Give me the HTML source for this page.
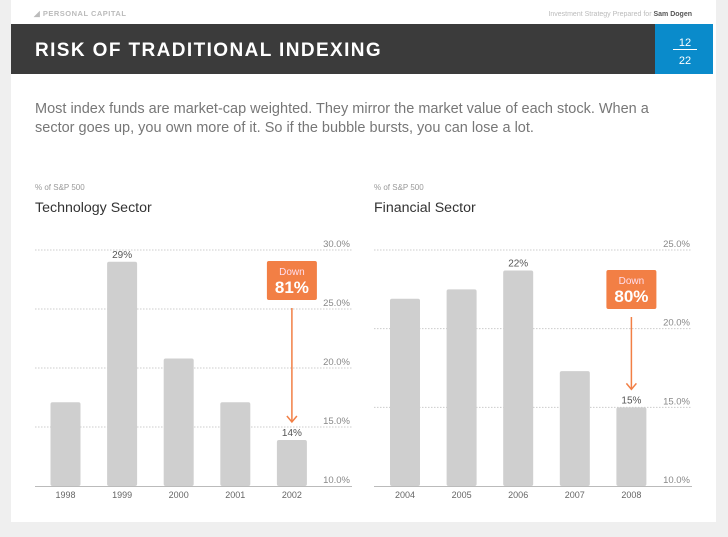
<!DOCTYPE html>
<html><head><meta charset="utf-8">
<style>
html,body{margin:0;padding:0;background:#efefef;width:728px;height:537px;overflow:hidden;font-family:"Liberation Sans",sans-serif}
.card{position:absolute;left:11px;top:0;width:705px;height:522px;background:#fff}
svg{position:absolute;left:0;top:0}
</style></head><body>
<div class="card"></div>
<svg width="728" height="537" id="chart">
<text x="34" y="16" font-size="7.5" fill="#bbb" font-weight="bold" letter-spacing="0.5">◢ PERSONAL CAPITAL</text>
<text x="692" y="16" font-size="7" fill="#bbb" text-anchor="end">Investment Strategy Prepared for <tspan fill="#555" font-weight="bold">Sam Dogen</tspan></text>
<rect x="11" y="24" width="644" height="50" fill="#3b3b3b"/>
<text x="35" y="56" font-size="19" fill="#fff" font-weight="bold" letter-spacing="1.4">RISK OF TRADITIONAL INDEXING</text>
<rect x="655" y="24" width="58" height="50" fill="#0a8bcb"/>
<text x="685" y="46" font-size="11" fill="#fff" text-anchor="middle">12</text>
<line x1="673" y1="49.5" x2="697" y2="49.5" stroke="#fff" stroke-width="1"/>
<text x="685" y="64" font-size="11" fill="#fff" text-anchor="middle">22</text>
<text x="35" y="113" font-size="14.5" fill="#777">Most index funds are market-cap weighted. They mirror the market value of each stock. When a</text>
<text x="35" y="132" font-size="14.5" fill="#777">sector goes up, you own more of it. So if the bubble bursts, you can lose a lot.</text>
<g id="g1"></g><g id="g2"></g>
</svg>
<script>
const techYears=["1998","1999","2000","2001","2002"];
const techValues=[17.1,29.0,20.8,17.1,13.9];
const techLabels=[null,"29%",null,null,"14%"];
const techTicks=[10,15,20,25,30];
const finYears=["2004","2005","2006","2007","2008"];
const finValues=[21.9,22.5,23.7,17.3,15.0];
const finLabels=[null,null,"22%",null,"15%"];
const finTicks=[10,15,20,25];
const NS="http://www.w3.org/2000/svg";
function mk(p,t,a){const e=document.createElementNS(NS,t);for(const k in a)e.setAttribute(k,a[k]);p.appendChild(e);return e;}
function draw(gid,cfg){
  const g=document.getElementById(gid);
  const base=486,top=250,min=cfg.ticks[0],max=cfg.ticks[cfg.ticks.length-1];
  const y=v=>base-(v-min)/(max-min)*(base-top);
  const x=i=>cfg.x0+i*56.6;
  let t=mk(g,'text',{x:cfg.ax0,y:190,'font-size':8,fill:'#999'});t.textContent='% of S&P 500';
  
  
  t=mk(g,'text',{x:cfg.ax0,y:212,'font-size':14.2,fill:'#333'});t.textContent=cfg.title;
  
  
  cfg.ticks.forEach((v,i)=>{
    if(i>0){const l=mk(g,'line',{x1:cfg.ax0,x2:cfg.ax1,y1:y(v),y2:y(v),stroke:'#ccc','stroke-dasharray':'1.5,1.5'});
    
    }
    const tx=mk(g,'text',{x:cfg.ax1-2,y:y(v)-3,'font-size':9.5,fill:'#888','text-anchor':'end'});tx.textContent=v.toFixed(1)+'%';
    
    
  });
  cfg.values.forEach((v,i)=>{
    const r=mk(g,'rect',{x:x(i),y:y(v),width:30,height:base-y(v),rx:2,fill:'#cfcfcf'});
    
    
    const c=mk(g,'text',{x:x(i)+15,y:base+12,'font-size':9,fill:'#666','text-anchor':'middle'});c.textContent=cfg.cats[i];
    
    
    if(cfg.labels[i]){const l=mk(g,'text',{x:x(i)+15,y:y(v)-4,'font-size':10,fill:'#555','text-anchor':'middle'});l.textContent=cfg.labels[i];
    
    }
  });
  const ax=mk(g,'line',{x1:cfg.ax0,x2:cfg.ax1,y1:base+0.5,y2:base+0.5,stroke:'#bbb'});
  
  
  const n=cfg.values.length-1, cx=x(n)+15, by=cfg.boxY;
  const b=mk(g,'rect',{x:cx-25,y:by,width:50,height:39,rx:2,fill:'#f27f45'});
  
  
  t=mk(g,'text',{x:cx,y:by+14,'font-size':10,fill:'#fde','text-anchor':'middle'});t.textContent='Down';
  t=mk(g,'text',{x:cx,y:by+32,'font-size':17,'font-weight':'bold',fill:'#fff','text-anchor':'middle'});t.textContent=cfg.down;
  const ay=y(cfg.values[n])-18;
  const a=mk(g,'line',{x1:cx,x2:cx,y1:by+47,y2:ay,stroke:'#f27f45','stroke-width':1.5});
  
  
  mk(g,'polyline',{points:`${cx-5},${ay-6} ${cx},${ay} ${cx+5},${ay-6}`,fill:'none',stroke:'#f27f45','stroke-width':1.5});
}
draw('g1',{name:'tech',title:'Technology Sector',cats:techYears,values:techValues,labels:techLabels,ticks:techTicks,x0:50.5,ax0:35,ax1:352,boxY:261,down:'81%'});
draw('g2',{name:'fin',title:'Financial Sector',cats:finYears,values:finValues,labels:finLabels,ticks:finTicks,x0:390,ax0:374,ax1:692,boxY:270,down:'80%'});
</script>
</body></html>
